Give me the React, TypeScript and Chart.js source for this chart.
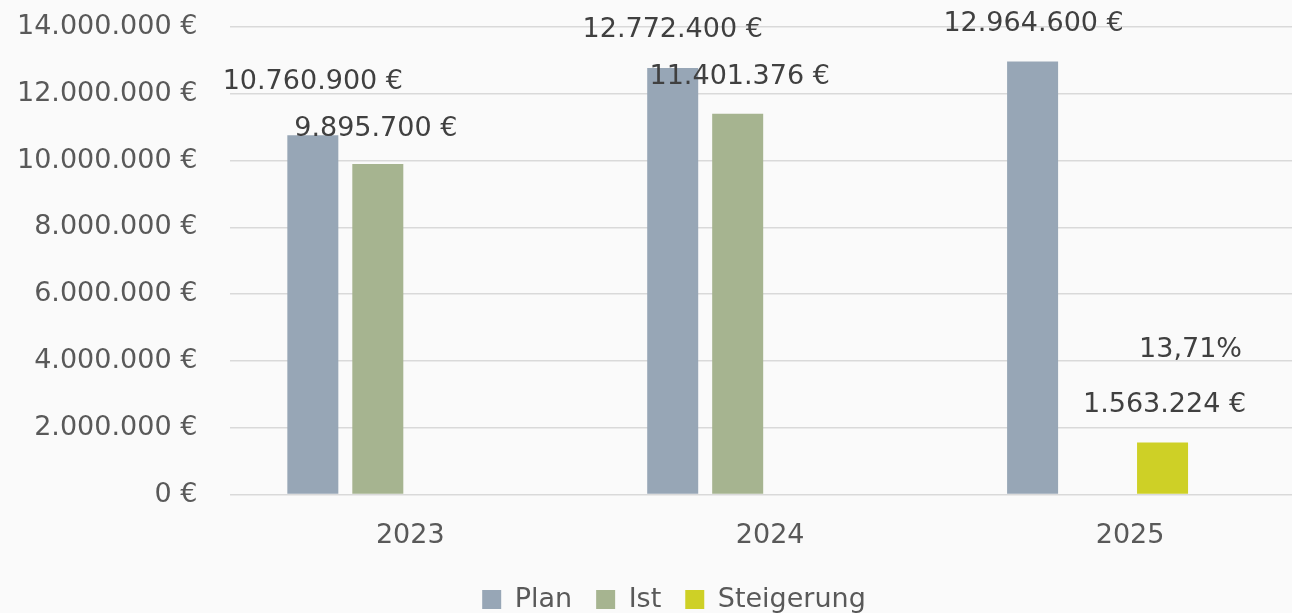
import { useEffect, useRef } from 'react';
import { Chart, registerables } from 'chart.js';

Chart.register(...registerables);

const categories = ['2023', '2024', '2025'];
const planValues = [10760900, 12772400, 12964600];
const istValues = [9895700, 11401376, null];
const steigerungValues = [null, null, 1563224];
const steigerungPercent = [null, null, 13.71];
const yMin = 0;
const yMax = 14000000;
const yStep = 2000000;

const FONT = 'DejaVu Sans';
const fmt = new Intl.NumberFormat('de-DE');
const euro = (v: number) => fmt.format(v) + ' €';
const pct = (v: number) => v.toFixed(2).replace('.', ',') + '%';

// label placement offsets (dx, dy) from bar top per dataset / category
const labelOffsets: number[][][] = [
  [[0, -53], [0, -38.5], [1, -37.5]],
  [[-2, -35], [2, -37], [0, 0]],
  [[0, 0], [0, 0], [2, -37.5]],
  [[0, 0], [0, 0], [-37, -144.5]],
];

const dataLabelPlugin = {
  id: 'dataLabels',
  afterDatasetsDraw(chart: any) {
    const ctx = chart.ctx;
    ctx.save();
    ctx.font = `27px "${FONT}"`;
    ctx.fillStyle = '#404040';
    ctx.textAlign = 'center';
    ctx.textBaseline = 'middle';
    chart.data.datasets.forEach((ds: any, i: number) => {
      const meta = chart.getDatasetMeta(i);
      meta.data.forEach((el: any, j: number) => {
        const v = ds.data[j];
        if (v === null || v === undefined) return;
        const text = i === 3 ? pct(v) : euro(v);
        const [dx, dy] = labelOffsets[i][j];
        ctx.fillText(text, el.x + dx, el.y + dy);
      });
    });
    ctx.restore();
  },
};

const legendShiftPlugin = {
  id: 'legendShift',
  afterLayout(chart: any) {
    if (chart.legend) {
      chart.legend.left += 27;
      chart.legend.right += 27;
    }
  },
};

export default function App() {
  const ref = useRef<HTMLCanvasElement>(null);
  useEffect(() => {
    if (!ref.current) return;
    const chart = new Chart(ref.current, {
      type: 'bar',
      data: {
        labels: categories,
        datasets: [
          { label: 'Plan', data: planValues, backgroundColor: '#97a6b6' },
          { label: 'Ist', data: istValues, backgroundColor: '#a6b490' },
          { label: 'Steigerung', data: steigerungValues, backgroundColor: '#ced026' },
          { label: 'Steigerung %', data: steigerungPercent, backgroundColor: 'rgba(0,0,0,0)' },
        ],
      },
      options: {
        responsive: false,
        animation: false,
        layout: { padding: { left: -16, right: 36, top: 27, bottom: -10 } },
        datasets: { bar: { categoryPercentage: 0.7222, barPercentage: 0.785 } },
        scales: {
          x: {
            grid: { display: false },
            border: { display: false },
            ticks: { color: '#595959', font: { family: FONT, size: 27 }, padding: 17 },
            afterFit: (scale: any) => { scale.height -= 7; },
          },
          y: {
            min: yMin,
            max: yMax,
            ticks: {
              stepSize: yStep,
              padding: 33,
              color: '#595959',
              font: { family: FONT, size: 27 },
              callback: (v: any) => euro(Number(v)),
            },
            afterFit: (scale: any) => { scale.paddingTop = 0; scale.paddingBottom = 0; },
            grid: { color: '#d9d9d9', lineWidth: 1.5, drawTicks: false },
            border: { display: false },
          },
        },
        plugins: {
          legend: {
            position: 'bottom',
            labels: {
              boxWidth: 19,
              boxHeight: 19,
              padding: 24,
              color: '#595959',
              font: { family: FONT, size: 27 },
              filter: (item: any) => item.datasetIndex < 3,
            },
          },
          tooltip: { enabled: false },
        },
      },
      plugins: [dataLabelPlugin, legendShiftPlugin],
    });
    return () => chart.destroy();
  }, []);

  return (
    <div style={{ position: 'fixed', left: 0, top: 0, width: 1292, height: 613, overflow: 'hidden', background: '#fafafa' }}>
      <canvas ref={ref} width={1346} height={613} style={{ display: 'block' }} />
    </div>
  );
}
